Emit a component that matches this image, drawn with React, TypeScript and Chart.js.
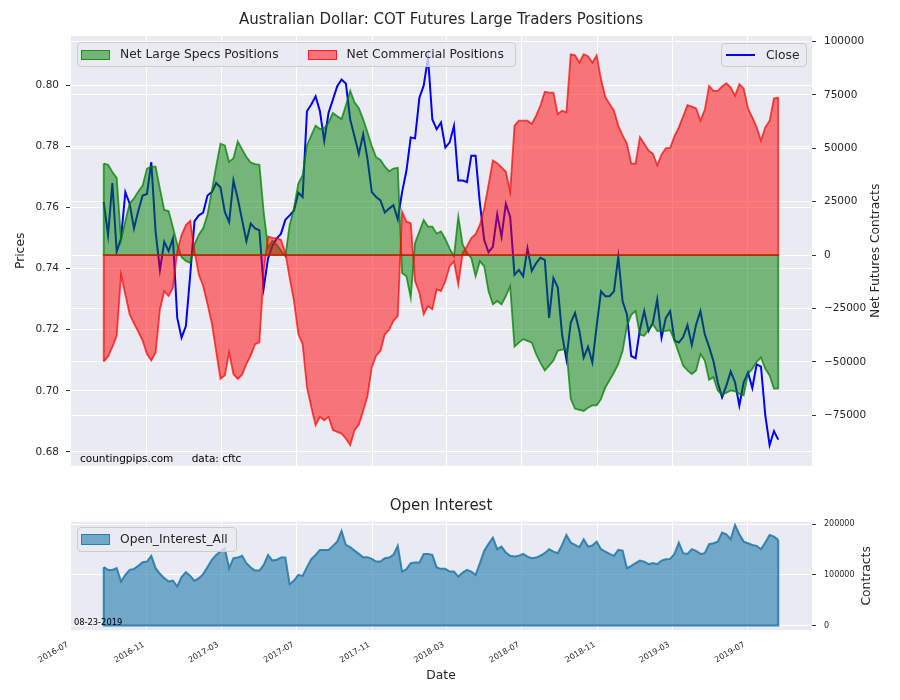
import { useEffect, useRef } from 'react'
import type { CSSProperties } from 'react'
import {
  Chart,
  LineController, LineElement, PointElement,
  LinearScale, Filler, Title,
} from 'chart.js'
import type { Plugin } from 'chart.js'

Chart.register(LineController, LineElement, PointElement, LinearScale, Filler, Title)

const FONT = "'DejaVu Sans', sans-serif"
Chart.defaults.font.family = FONT
Chart.defaults.color = '#262626'

// weekly COT reports, first one on 2016-08-23
const firstReport = [2016, 7, 23]

const specs = [
  42800, 42300, 38900, 36100, 7100, 15800, 24200, 26500, 29800, 32500,
  40500, 41400, 41400, 31000, 21100, 20600, 13000, 5000, -1000, -2800,
  -3700, 5000, 9500, 12500, 19000, 30000, 41500, 52100, 51300, 43600,
  45300, 53200, 49500, 45900, 43300, 42600, 42300, 20000, 3300, 6700,
  4800, 2000, -600, 14100, 21900, 33500, 37400, 51300, 56000, 60600,
  59000, 59500, 62000, 66500, 65000, 63700, 70000, 76900, 71500, 68800,
  63500, 57500, 51000, 45800, 44500, 41500, 39200, 40500, 40800, -8400,
  -9900, -20000, 5600, 11000, 16400, 13300, 13300, 10000, 11000, 7500,
  3000, -600, 18000, 5000, 1000, -1400, -9900, -2900, -5300, -17000,
  -23100, -21500, -23100, -19200, -14600, -42900, -41000, -39400, -40200, -41000,
  -46400, -50500, -54100, -51800, -49400, -44800, -44300, -44000, -67300, -72000,
  -72500, -73000, -71500, -70400, -70400, -67500, -62000, -58500, -55000, -51000,
  -45000, -33200, -28000, -26200, -37300, -37800, -35000, -32400, -35500, -35700,
  -35500, -35200, -40100, -46000, -51800, -54000, -55700, -54100, -46400, -49400,
  -58400, -57200, -63400, -65500, -64500, -63400, -63800, -65000, -65700, -55700,
  -53300, -50000, -47900, -53300, -56400, -62600, -62600,
]

const commercials = [
  -49800, -47500, -43000, -37800, -9200, -18500, -27800, -32000, -36000, -40100,
  -46400, -49400, -45600, -25400, -16900, -19200, -15300, 1700, 9400, 14000,
  16000, 1700, -9200, -14500, -23000, -32000, -45000, -58000, -56400, -45600,
  -55700, -58000, -56000, -51000, -47000, -41700, -40900, -7600, 8700, 8000,
  7900, 7100, 1000, -10700, -21500, -37000, -41700, -61900, -71200, -79700,
  -75800, -77400, -75800, -82000, -82800, -83600, -85900, -89000, -82000, -79500,
  -73000, -66000, -52500, -47100, -44800, -37100, -35000, -30800, -28500, 20300,
  15700, 14900, -12200, -17700, -27800, -23900, -25400, -16100, -16900, -12200,
  -5300, -2900, -13800, 1000, 4000, 7900, 9800, 14100, 21900, 33000,
  44300, 43000, 41000, 39000, 29600, 60600, 62900, 62900, 62900, 61400,
  65300, 70000, 76400, 76000, 76000, 66000, 67600, 66800, 94000, 93500,
  90100, 94000, 93100, 90100, 93500, 82300, 74000, 70700, 67600, 60500,
  56000, 52100, 42800, 42800, 55200, 52100, 49000, 47400, 42000, 47000,
  50100, 50200, 55700, 59800, 65000, 70200, 69500, 68700, 62900, 68000,
  79200, 76900, 76900, 78900, 80500, 78400, 74600, 80000, 78000, 68700,
  64500, 59800, 53600, 59800, 62900, 73300, 73800,
]

const close = [
  0.7619, 0.7510, 0.7681, 0.7456, 0.7499, 0.7651, 0.7613, 0.7532, 0.7590, 0.7640,
  0.7645, 0.7749, 0.7521, 0.7396, 0.7488, 0.7458, 0.7499, 0.7239, 0.7174, 0.7212,
  0.7380, 0.7556, 0.7575, 0.7584, 0.7640, 0.7651, 0.7681, 0.7667, 0.7586, 0.7553,
  0.7689, 0.7629, 0.7560, 0.7490, 0.7548, 0.7532, 0.7526, 0.7337, 0.7434, 0.7475,
  0.7499, 0.7515, 0.7560, 0.7575, 0.7591, 0.7649, 0.7635, 0.7916, 0.7938, 0.7965,
  0.7916, 0.7819, 0.7911, 0.7954, 0.7998, 0.8020, 0.8007, 0.7889, 0.7833, 0.7776,
  0.7841, 0.7759, 0.7651, 0.7635, 0.7624, 0.7584, 0.7597, 0.7608, 0.7562, 0.7651,
  0.7721, 0.7830, 0.7827, 0.7960, 0.8000, 0.8092, 0.7889, 0.7857, 0.7879, 0.7797,
  0.7814, 0.7868, 0.7689, 0.7689, 0.7684, 0.7770, 0.7770, 0.7613, 0.7494, 0.7454,
  0.7472, 0.7578, 0.7505, 0.7613, 0.7570, 0.7380, 0.7396, 0.7375, 0.7467, 0.7393,
  0.7418, 0.7436, 0.7429, 0.7239, 0.7369, 0.7339, 0.7185, 0.7103, 0.7223, 0.7255,
  0.7196, 0.7109, 0.7144, 0.7093, 0.7212, 0.7326, 0.7310, 0.7310, 0.7326, 0.7439,
  0.7293, 0.7250, 0.7114, 0.7107, 0.7201, 0.7261, 0.7196, 0.7223, 0.7299, 0.7174,
  0.7239, 0.7261, 0.7165, 0.7158, 0.7176, 0.7215, 0.7150, 0.7217, 0.7261, 0.7185,
  0.7144, 0.7098, 0.7028, 0.6979, 0.7017, 0.7063, 0.7028, 0.6952, 0.7028, 0.7060,
  0.7009, 0.7087, 0.7079, 0.6919, 0.6822, 0.6868, 0.6840,
]

const openInterest = [
  115200, 109800, 109800, 113200, 86800, 100000, 109800, 111800, 117700, 125000,
  126200, 137500, 113200, 102000, 93500, 86800, 88800, 76900, 95400, 105300,
  98000, 88100, 93500, 101400, 115200, 129600, 139400, 146000, 152600, 113200,
  132900, 134100, 137500, 123100, 114400, 108500, 108500, 119700, 139400, 128200,
  129600, 134100, 134100, 81600, 88800, 100000, 98000, 115200, 130900, 139400,
  149300, 149300, 149300, 157200, 165700, 186700, 159100, 154600, 147900, 141400,
  134900, 134900, 131500, 126200, 126200, 132900, 134100, 139400, 157200, 106500,
  111200, 123100, 124200, 124200, 141400, 141400, 139400, 114400, 111800, 111800,
  106500, 106500, 96600, 104500, 109800, 106500, 100000, 123100, 147900, 161100,
  173500, 150700, 155800, 144000, 137500, 136100, 138000, 141400, 136100, 132900,
  134100, 138000, 142800, 150700, 145900, 142800, 159100, 178900, 163700, 159100,
  154600, 170400, 155800, 157800, 165700, 150700, 145900, 141400, 137500, 149300,
  147900, 113200, 117700, 123100, 128200, 126200, 121100, 123100, 121100, 128200,
  130900, 131500, 141400, 163700, 142800, 141400, 150700, 147300, 141400, 142800,
  160500, 162500, 165700, 183400, 180200, 170400, 198600, 180200, 165700, 162500,
  159100, 157200, 150700, 163700, 178900, 175500, 169000,
]

const dateTicks = ['2016-07', '2016-11', '2017-03', '2017-07', '2017-11', '2018-03', '2018-07', '2018-11', '2019-03', '2019-07']
const priceTicks = [0.68, 0.70, 0.72, 0.74, 0.76, 0.78, 0.80]
const netTicks = [-75000, -50000, -25000, 0, 25000, 50000, 75000, 100000]
const oiTicks = [0, 100000, 200000]

const SPECS_LABEL = 'Net Large Specs Positions'
const COMM_LABEL = 'Net Commercial Positions'
const CLOSE_LABEL = 'Close'
const OI_LABEL = 'Open_Interest_All'

const C = {
  text: '#262626',
  plot: '#EAEAF2',
  grid: '#ffffff',
  tick: '#333333',
  greenFill: 'rgba(0,128,0,0.5)',
  greenLine: 'rgba(0,128,0,0.75)',
  redFill: 'rgba(255,0,0,0.5)',
  redLine: 'rgba(255,0,0,0.7)',
  blue: '#0000ff',
  oiFill: 'rgba(31,122,170,0.6)',
  oiLine: 'rgba(31,119,170,0.85)',
}

const DAY = 86400000
const startDay = Date.UTC(firstReport[0], firstReport[1], firstReport[2]) / DAY
const days = close.map((_, i) => startDay + i * 7)
const xMin = days[0] - 54.6
const xMax = days[days.length - 1] + 54.6
const monthDay = (s: string) => Date.UTC(+s.slice(0, 4), +s.slice(5, 7) - 1, 1) / DAY
const pts = (vals: number[]) => vals.map((v, i) => ({ x: days[i], y: v }))
const minus = (v: number) => String(v).replace('-', '\u2212')

const plotBg: Plugin = {
  id: 'plotBg',
  beforeDraw(chart) {
    const { ctx, chartArea: a } = chart
    ctx.save()
    ctx.fillStyle = C.plot
    ctx.fillRect(a.left, a.top, a.right - a.left, a.bottom - a.top)
    ctx.restore()
  },
}

// edges of the filled areas down to zero, like fill_between draws them
const fillEdges: Plugin = {
  id: 'fillEdges',
  afterDatasetsDraw(chart) {
    const { ctx } = chart
    chart.data.datasets.forEach((ds: any, i) => {
      if (!ds.fill) return
      const meta = chart.getDatasetMeta(i)
      const els = meta.data
      if (!els.length) return
      const base = chart.scales[meta.yAxisID as string].getPixelForValue(0)
      const a = els[0], b = els[els.length - 1]
      ctx.save()
      ctx.strokeStyle = ds.borderColor
      ctx.lineWidth = ds.borderWidth
      ctx.beginPath()
      ctx.moveTo(a.x, a.y)
      ctx.lineTo(a.x, base)
      ctx.lineTo(b.x, base)
      ctx.lineTo(b.x, b.y)
      ctx.stroke()
      ctx.restore()
    })
  },
}

function sideTitle(text: string, x: number): Plugin {
  return {
    id: 'sideTitle',
    afterDraw(chart) {
      const { ctx, chartArea: a } = chart
      ctx.save()
      ctx.translate(x, (a.top + a.bottom) / 2)
      ctx.rotate(-Math.PI / 2)
      ctx.font = `12.3px ${FONT}`
      ctx.fillStyle = C.text
      ctx.textAlign = 'center'
      ctx.textBaseline = 'middle'
      ctx.fillText(text, 0, 0)
      ctx.restore()
    },
  }
}

const xAxis = (showLabels: boolean, height: number) => ({
  type: 'linear' as const,
  min: xMin,
  max: xMax,
  afterBuildTicks: (s: any) => { s.ticks = dateTicks.map(t => ({ value: monthDay(t) })) },
  afterFit: (s: any) => { s.height = height },
  grid: { color: C.grid, drawTicks: false },
  border: { display: false },
  ticks: {
    display: showLabels,
    autoSkip: false,
    minRotation: 30,
    maxRotation: 30,
    padding: 10,
    labelOffset: -3,
    font: { size: 8 },
    callback: (v: any) => new Date(Number(v) * DAY).toISOString().slice(0, 7),
  },
})

const yGrid = { color: C.grid, tickColor: C.tick, tickLength: 4 }

export default function App() {
  const topRef = useRef<HTMLCanvasElement>(null)
  const botRef = useRef<HTMLCanvasElement>(null)

  useEffect(() => {
    if (!topRef.current || !botRef.current) return

    const top = new Chart(topRef.current, {
      type: 'line',
      data: {
        datasets: [
          {
            label: CLOSE_LABEL, data: pts(close), yAxisID: 'y', order: 3,
            borderColor: C.blue, borderWidth: 2, pointRadius: 0, fill: false,
          },
          {
            label: SPECS_LABEL, data: pts(specs), yAxisID: 'y2', order: 2,
            borderColor: C.greenLine, backgroundColor: C.greenFill, borderWidth: 1.8,
            pointRadius: 0, fill: 'origin',
          },
          {
            label: COMM_LABEL, data: pts(commercials), yAxisID: 'y2', order: 1,
            borderColor: C.redLine, backgroundColor: C.redFill, borderWidth: 1.8,
            pointRadius: 0, fill: 'origin',
          },
        ],
      },
      options: {
        responsive: false,
        animation: false,
        events: [],
        layout: { padding: 0 },
        plugins: {
          legend: { display: false },
          title: {
            display: true, fullSize: false,
            text: 'Australian Dollar: COT Futures Large Traders Positions',
            font: { size: 15, weight: 'normal' }, color: C.text,
            padding: { top: 11, bottom: 7 },
          },
        },
        scales: {
          x: xAxis(false, 11),
          y: {
            type: 'linear', position: 'left', min: 0.67545, max: 0.81626,
            afterBuildTicks: (s: any) => { s.ticks = priceTicks.map(v => ({ value: v })) },
            afterFit: (s: any) => { s.width = 70 },
            grid: yGrid,
            border: { display: false },
            ticks: { padding: 7, font: { size: 10.5 }, callback: (v: any) => Number(v).toFixed(2) },
            title: { display: true, text: 'Prices', font: { size: 12.3 }, padding: { top: 13.3, bottom: 0 } },
          },
          y2: {
            type: 'linear', position: 'right', min: -98650, max: 102560,
            afterBuildTicks: (s: any) => { s.ticks = netTicks.map(v => ({ value: v })) },
            afterFit: (s: any) => { s.width = 88 },
            grid: yGrid,
            border: { display: false },
            ticks: { padding: 8, font: { size: 10.5 }, callback: (v: any) => minus(Number(v)) },
          },
        },
      },
      plugins: [plotBg, fillEdges, sideTitle('Net Futures Contracts', 876)],
    })

    const bottom = new Chart(botRef.current, {
      type: 'line',
      data: {
        datasets: [
          {
            label: OI_LABEL, data: pts(openInterest), yAxisID: 'y',
            borderColor: C.oiLine, backgroundColor: C.oiFill, borderWidth: 2,
            pointRadius: 0, fill: 'origin',
          },
        ],
      },
      options: {
        responsive: false,
        animation: false,
        events: [],
        layout: { padding: { left: 70 } },
        plugins: {
          legend: { display: false },
          title: {
            display: true, fullSize: false, text: 'Open Interest',
            font: { size: 15, weight: 'normal' }, color: C.text,
            padding: { top: 17, bottom: 6.7 },
          },
        },
        scales: {
          x: {
            ...xAxis(true, 70),
            title: { display: true, text: 'Date', font: { size: 12.3 }, padding: { top: 0, bottom: 16.6 } },
          },
          y: {
            type: 'linear', position: 'right', min: -9000, max: 205000,
            afterBuildTicks: (s: any) => { s.ticks = oiTicks.map(v => ({ value: v })) },
            afterFit: (s: any) => { s.width = 88 },
            grid: yGrid,
            border: { display: false },
            ticks: { padding: 8, font: { size: 8 }, callback: (v: any) => minus(Number(v)) },
          },
        },
      },
      plugins: [plotBg, fillEdges, sideTitle('Contracts', 867)],
    })

    return () => { top.destroy(); bottom.destroy() }
  }, [])

  const box: CSSProperties = {
    position: 'absolute', display: 'flex', alignItems: 'center', boxSizing: 'border-box',
    border: '1px solid #cccccc', borderRadius: 4, background: 'rgba(234,234,242,0.8)',
    fontSize: 12.3, color: C.text, lineHeight: 1, whiteSpace: 'nowrap', paddingLeft: 3,
  }
  const patch = (fill: string, edge: string, extra: CSSProperties = {}): CSSProperties => ({
    width: 29, height: 10, boxSizing: 'border-box', background: fill,
    border: `1px solid ${edge}`, marginRight: 10, ...extra,
  })

  return (
    <div style={{ position: 'fixed', left: 0, top: 0, width: 900, height: 700, background: '#fff', fontFamily: FONT }}>
      <canvas ref={topRef} width={900} height={480} style={{ position: 'absolute', left: 0, top: 0 }} />
      <canvas ref={botRef} width={900} height={220} style={{ position: 'absolute', left: 0, top: 480 }} />

      <div style={{ ...box, left: 77, top: 42, width: 439, height: 25 }}>
        <span style={patch(C.greenFill, C.greenLine)} />
        <span>{SPECS_LABEL}</span>
        <span style={patch(C.redFill, C.redLine, { marginLeft: 29 })} />
        <span>{COMM_LABEL}</span>
      </div>

      <div style={{ ...box, left: 721, top: 43, width: 86, height: 24, paddingLeft: 4 }}>
        <span style={{ width: 29, height: 2, background: C.blue, marginRight: 11 }} />
        <span>{CLOSE_LABEL}</span>
      </div>

      <div style={{ ...box, left: 77, top: 527, width: 160, height: 25 }}>
        <span style={patch(C.oiFill, C.oiLine, { height: 11 })} />
        <span>{OI_LABEL}</span>
      </div>

      <div style={{ position: 'absolute', left: 80, top: 452.6, fontSize: 10.5, lineHeight: 1, color: '#000' }}>countingpips.com</div>
      <div style={{ position: 'absolute', left: 191.7, top: 452.6, fontSize: 10.5, lineHeight: 1, color: '#000' }}>data: cftc</div>
      <div style={{ position: 'absolute', left: 74, top: 617.5, fontSize: 8.3, lineHeight: 1, color: '#000' }}>08-23-2019</div>
    </div>
  )
}
